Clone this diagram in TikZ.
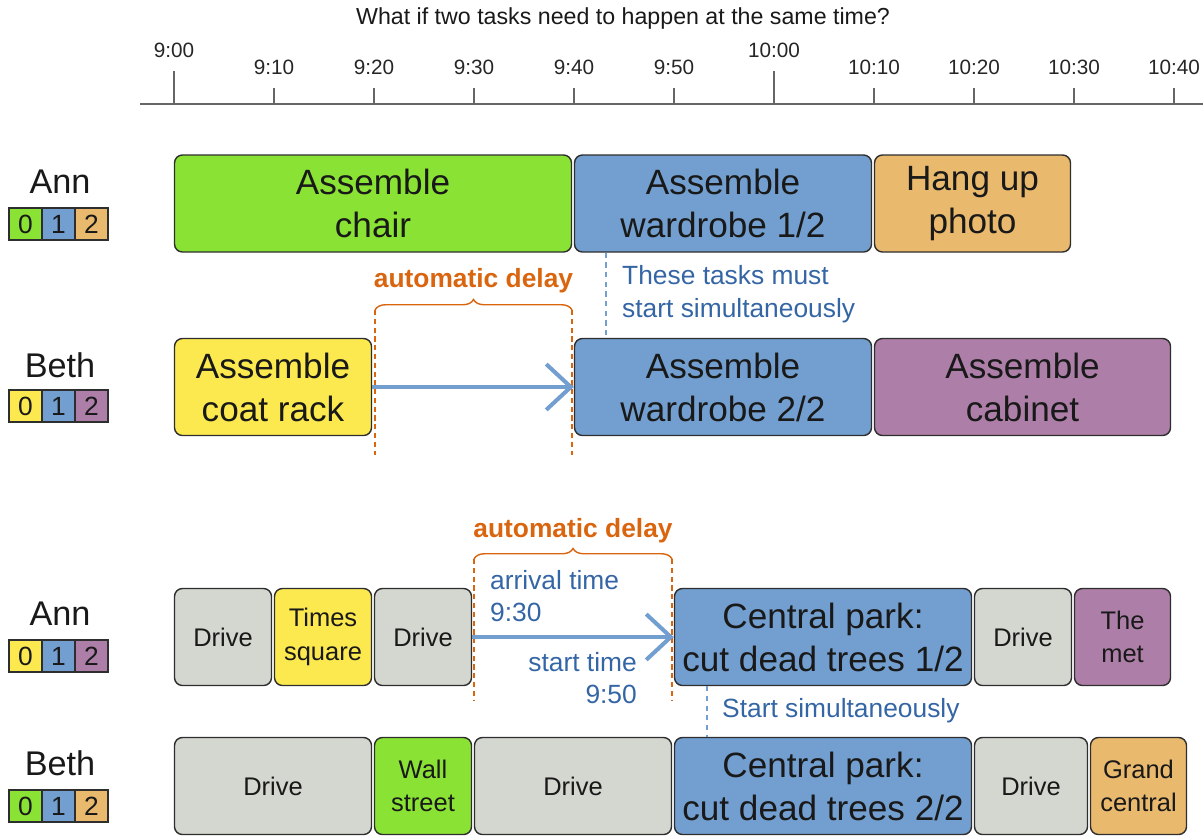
\documentclass[tikz,border=0pt]{standalone}
\usepackage{fontspec}
\setmainfont{Liberation Sans}
\usetikzlibrary{arrows.meta, decorations.pathreplacing}

\definecolor{taskgreen}{HTML}{8AE234}
\definecolor{taskblue}{HTML}{729FCF}
\definecolor{taskorange}{HTML}{E9B96E}
\definecolor{taskpurple}{HTML}{AD7FA8}
\definecolor{taskyellow}{HTML}{FCE94F}
\definecolor{taskgray}{HTML}{D3D7CF}
\definecolor{taskline}{HTML}{2E2E2E}
\definecolor{notebluetext}{HTML}{3465A4}
\definecolor{delayorange}{HTML}{D9650F}
\definecolor{axisgray}{HTML}{666666}

\begin{document}
\begin{tikzpicture}[
  x=0.02cm, y=-0.02cm,
  task/.style={draw=taskline, line width=0.8pt, rounded corners=4.5pt, minimum height=97*0.02cm, align=center, inner sep=1pt, text=black!90},
  wd/.style={minimum width=#1*0.02cm},
  big/.style={font=\fontsize{20}{24.5}\selectfont},
  small/.style={font=\fontsize{14.5}{19}\selectfont},
  who/.style={font=\fontsize{19.5}{20}\selectfont, text=black!90},
  cell/.style={draw=taskline, line width=0.8pt, minimum width=33*0.02cm, minimum height=32*0.02cm, inner sep=0pt, font=\fontsize{15}{15}\selectfont, text=black!90},
  tick/.style={draw=axisgray, line width=1.3pt},
  timelbl/.style={font=\fontsize{11.8}{12}\selectfont, text=black!85},
  delayarr/.style={draw=taskblue, line width=2.3pt, -{Straight Barb[length=14pt, width=26pt]}},
  delaybrace/.style={draw=delayorange, line width=0.8pt, decorate, decoration={brace, amplitude=6pt}},
  delaylbl/.style={font=\fontsize{15}{15}\selectfont\bfseries, text=delayorange},
  bound/.style={draw=delayorange, line width=0.8pt, dash pattern=on 3pt off 2pt},
  sync/.style={draw=taskblue, line width=1.2pt, dash pattern=on 3pt off 2.5pt},
  note/.style={font=\fontsize{15}{18.7}\selectfont, text=notebluetext},
]
\useasboundingbox (0,0) rectangle (1203,836);

% time axis
\node[font=\fontsize{13.2}{14}\selectfont, text=black!90] (title) at (623,18) {What if two tasks need to happen at the same time?};
\draw[draw=axisgray, line width=1.6pt] (140,104) -- (1203,104);
\foreach \i/\t in {1/9:10, 2/9:20, 3/9:30, 4/9:40, 5/9:50, 7/10:10, 8/10:20, 9/10:30, 10/10:40} {
  \draw[tick] (174+\i*100,104) -- (174+\i*100,88);
  \node[timelbl] at (174+\i*100,67) {\t};
}
\foreach \i/\t in {0/9:00, 6/10:00} {
  \draw[tick] (174+\i*100,104) -- (174+\i*100,71);
  \node[timelbl] at (174+\i*100,50) {\t};
}

% first example: who
\node[who] (ann1) at (60,182) {Ann};
\node[cell, fill=taskgreen] (ann1a) at (25.5,224) {0};
\node[cell, fill=taskblue] (ann1b) at (58.5,224) {1};
\node[cell, fill=taskorange] (ann1c) at (91.5,224) {2};
\node[who] (beth1) at (60,365) {Beth};
\node[cell, fill=taskyellow] (beth1a) at (25.5,406) {0};
\node[cell, fill=taskblue] (beth1b) at (58.5,406) {1};
\node[cell, fill=taskpurple] (beth1c) at (91.5,406) {2};

% first example: tasks
\node[task, big, wd=397, fill=taskgreen] (chair) at (373,203.5) {Assemble\\chair};
\node[task, big, wd=297, fill=taskblue] (wardrobe1) at (723,203.5) {Assemble\\wardrobe 1/2};
\node[task, big, wd=196, fill=taskorange] (photo) at (972.5,203.5) {Hang up\\photo};
\node[task, big, wd=197, fill=taskyellow] (coatrack) at (273,387) {Assemble\\coat rack};
\node[task, big, wd=297, fill=taskblue] (wardrobe2) at (723,387) {Assemble\\wardrobe 2/2};
\node[task, big, wd=296, fill=taskpurple] (cabinet) at (1022.5,387) {Assemble\\cabinet};

\coordinate (sync1) at (606,0);
\draw[sync] (wardrobe1.south -| sync1) -- (wardrobe2.north -| sync1);
\node[note, anchor=west, align=left] (syncnote1) at (616,294) {These tasks must\\start simultaneously};

\coordinate (brace1l) at (375,310);
\coordinate (brace1r) at (572,310);
\coordinate (bound1l) at (375,455);
\coordinate (bound1r) at (572,455);
\draw[delaybrace] (brace1l) -- (brace1r);
\node[delaylbl] (delay1) at (473.5,281) {automatic delay};
\draw[bound] (brace1l) -- (bound1l);
\draw[bound] (brace1r) -- (bound1r);
\draw[delayarr] (coatrack) -- (wardrobe2);

% second example: who
\node[who] (ann2) at (60,614) {Ann};
\node[cell, fill=taskyellow] (ann2a) at (25.5,656) {0};
\node[cell, fill=taskblue] (ann2b) at (58.5,656) {1};
\node[cell, fill=taskpurple] (ann2c) at (91.5,656) {2};
\node[who] (beth2) at (60,763) {Beth};
\node[cell, fill=taskgreen] (beth2a) at (25.5,806) {0};
\node[cell, fill=taskblue] (beth2b) at (58.5,806) {1};
\node[cell, fill=taskorange] (beth2c) at (91.5,806) {2};

% second example: tasks
\node[task, small, wd=97, fill=taskgray] (drive1) at (223,637) {Drive};
\node[task, small, wd=97, fill=taskyellow] (times) at (323,637) {Times\\square};
\node[task, small, wd=97, fill=taskgray] (drive2) at (423,637) {Drive};
\node[task, big, wd=297, fill=taskblue] (park1) at (823,637) {Central park:\\cut dead trees 1/2};
\node[task, small, wd=97, fill=taskgray] (drive3) at (1023,637) {Drive};
\node[task, small, wd=96, fill=taskpurple] (met) at (1122.5,637) {The\\met};
\node[task, small, wd=197, fill=taskgray] (drive4) at (273,786) {Drive};
\node[task, small, wd=97, fill=taskgreen] (wall) at (423,786) {Wall\\street};
\node[task, small, wd=197, fill=taskgray] (drive5) at (573,786) {Drive};
\node[task, big, wd=297, fill=taskblue] (park2) at (823,786) {Central park:\\cut dead trees 2/2};
\node[task, small, wd=113, fill=taskgray] (drive6) at (1031,786) {Drive};
\node[task, small, wd=96, fill=taskorange] (grand) at (1138.5,786) {Grand\\central};

\coordinate (sync2) at (707,0);
\draw[sync] (park1.south -| sync2) -- (park2.north -| sync2);
\node[note, anchor=west] (syncnote2) at (716,711) {Start simultaneously};

\coordinate (brace2l) at (474,559);
\coordinate (brace2r) at (672,559);
\coordinate (bound2l) at (474,700);
\coordinate (bound2r) at (672,700);
\draw[delaybrace] (brace2l) -- (brace2r);
\node[delaylbl] (delay2) at (573,531) {automatic delay};
\draw[bound] (brace2l) -- (bound2l);
\draw[bound] (brace2r) -- (bound2r);
\draw[delayarr] (drive2) -- (park1);
\node[note, anchor=west, align=left] (arrival) at (484,596) {arrival time\\9:30};
\node[note, anchor=east, align=right] (start) at (643,678) {start time\\9:50};

\end{tikzpicture}
\end{document}
